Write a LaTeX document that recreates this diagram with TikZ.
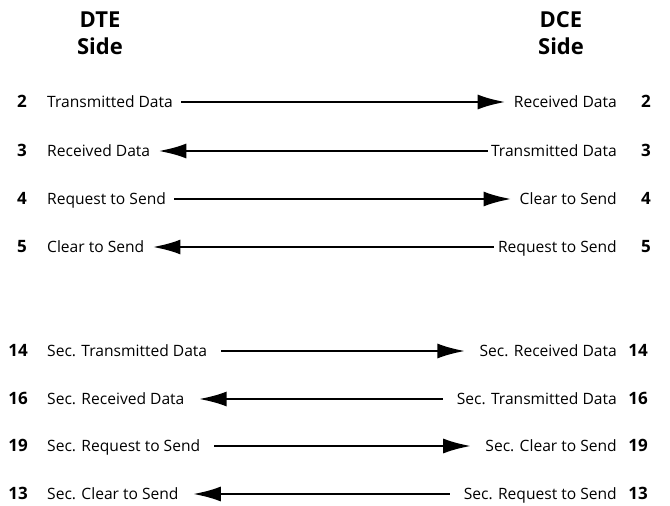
\documentclass[tikz,border=0pt]{standalone}
\usepackage{fontspec}
\setmainfont{Open Sans}
\usetikzlibrary{arrows.meta}
\tikzset{
	lbl/.style={inner sep=0pt,text height=10.5pt,text depth=0pt,font=\fontsize{15.6}{18}\selectfont},
	num/.style={inner sep=0pt,text height=11pt,text depth=0pt,font=\bfseries\fontsize{17}{18}\selectfont},
	head/.style={align=center,font=\bfseries\fontsize{22}{27}\selectfont},
	wire/.style={line width=2.8pt,shorten <=8pt,shorten >=8pt},
	secwire/.style={wire,shorten <=14pt,shorten >=14pt}
}
\begin{document}
\begin{tikzpicture}[x=1pt,y=-1pt,>={Latex[length=28pt,width=15pt]}]
		\useasboundingbox (0,0) rectangle (670,506);
		\node[head] (dte) at (100,33) {DTE\\Side};
		\node[head] (dce) at (561,33) {DCE\\Side};
		% primary channel
		\node[num,anchor=east] (n2) at (27,102) {2};
		\node[lbl,anchor=west] (td) at (47,102) {Transmitted Data};
		\node[lbl,anchor=east] (rd') at (617,102) {Received Data};
		\node[num] (n2') at (646,102) {2};
		\draw[wire,->] (td)--(rd');
		\node[num,anchor=east] (n3) at (27,151) {3};
		\node[lbl,anchor=west] (rd) at (47,151) {Received Data};
		\node[lbl,anchor=east] (td') at (617,151) {Transmitted Data};
		\node[num] (n3') at (646,151) {3};
		\draw[wire,shorten <=3pt,->] (td')--(rd);
		\node[num,anchor=east] (n4) at (27,199) {4};
		\node[lbl,anchor=west] (rts) at (47,199) {Request to Send};
		\node[lbl,anchor=east] (cts') at (617,199) {Clear to Send};
		\node[num] (n4') at (646,199) {4};
		\draw[wire,->] (rts)--(cts');
		\node[num,anchor=east] (n5) at (27,247) {5};
		\node[lbl,anchor=west] (cts) at (47,247) {Clear to Send};
		\node[lbl,anchor=east] (rts') at (617,247) {Request to Send};
		\node[num] (n5') at (646,247) {5};
		\draw[wire,shorten <=4pt,->] (rts')--(cts);
		% secondary channel
		\node[num,anchor=east] (n14) at (28,351) {14};
		\node[lbl,anchor=west] (std) at (47,351) {Sec. Transmitted Data};
		\node[lbl,anchor=east] (srd') at (617,351) {Sec. Received Data};
		\node[num] (n14') at (638,351) {14};
		\draw[secwire,->] (std)--(srd');
		\node[num,anchor=east] (n16) at (28,399) {16};
		\node[lbl,anchor=west] (srd) at (47,399) {Sec. Received Data};
		\node[lbl,anchor=east] (std') at (617,399) {Sec. Transmitted Data};
		\node[num] (n16') at (638,399) {16};
		\draw[secwire,->] (std')--(srd);
		\node[num,anchor=east] (n19) at (28,446) {19};
		\node[lbl,anchor=west] (srts) at (47,446) {Sec. Request to Send};
		\node[lbl,anchor=east] (scts') at (617,446) {Sec. Clear to Send};
		\node[num] (n19') at (638,446) {19};
		\draw[secwire,->] (srts)--(scts');
		\node[num,anchor=east] (n13) at (28,494) {13};
		\node[lbl,anchor=west] (scts) at (47,494) {Sec. Clear to Send};
		\node[lbl,anchor=east] (srts') at (617,494) {Sec. Request to Send};
		\node[num] (n13') at (638,494) {13};
		\draw[secwire,->] (srts')--(scts);
	\end{tikzpicture}
\end{document}
